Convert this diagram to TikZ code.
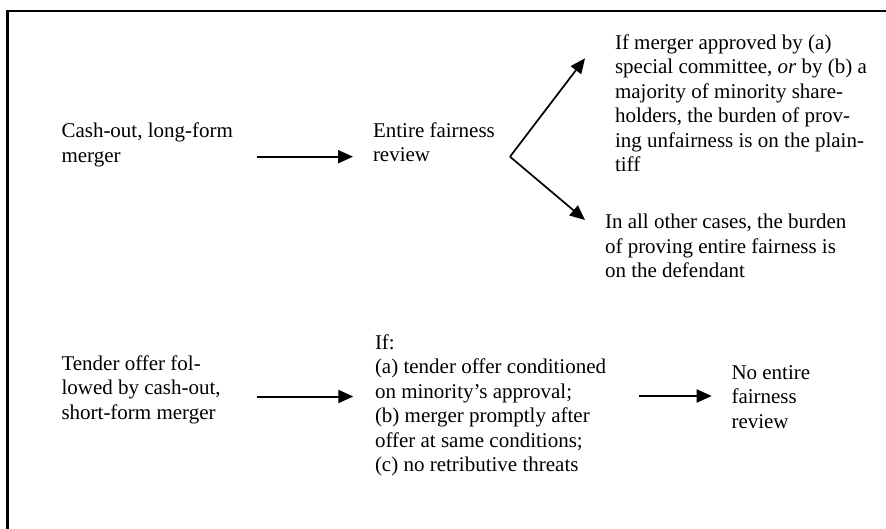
\documentclass[tikz,border=0pt]{standalone}
\usepackage{fontspec}
\setmainfont{Liberation Serif}
\usetikzlibrary{arrows.meta}
\begin{document}
\begin{tikzpicture}[x=1pt,y=-1pt,
  txt/.style={anchor=base west,inner sep=0pt,outer sep=0pt,align=left,
    font=\fontsize{21}{24.5}\selectfont},
  arr/.style={line width=2pt,-{Triangle[length=15pt,width=13pt]}},
  thin arr/.style={line width=1.7pt,-{Triangle[length=15pt,width=13pt]}},
  frame/.style={line width=2.2pt}]
\useasboundingbox (0,0) rectangle (886,529);
\clip (0,0) rectangle (886,529);
\fill[white] (0,0) rectangle (886,529);
% frame (open at right and bottom, as cropped)
\coordinate (fbl) at (7.5,540);
\coordinate (ftl) at (7.5,11.3);
\coordinate (ftr) at (900,11.3);
\draw[frame] (fbl) -- (ftl) -- (ftr);
% texts (anchored at the baseline of the last line)
\node[txt] (cash) at (61.5,162.5) {Cash-out, long-form\\merger};
\node[txt] (fair) at (373,162) {Entire fairness\\review};
\node[txt] (appr) at (615,171.7) {If merger approved by (a)\\special committee, \emph{or} by (b) a\\majority of minority share-\\holders, the burden of prov-\\ing unfairness is on the plain-\\tiff};
\node[txt] (other) at (605,278) {In all other cases, the burden\\of proving entire fairness is\\on the defendant};
\node[txt] (tender) at (61.5,419.3) {Tender offer fol-\\lowed by cash-out,\\short-form merger};
\node[txt] (cond) at (375,471.7) {If:\\(a) tender offer conditioned\\on minority’s approval;\\(b) merger promptly after\\offer at same conditions;\\(c) no retributive threats};
\node[txt] (nofair) at (731.5,428.3) {No entire\\fairness\\review};
% connector points
\coordinate (s1) at (256.7,156.7);
\coordinate (e1) at (353,156.7);
\coordinate (v) at (510,156.7);
\coordinate (up) at (585,58.3);
\coordinate (dn) at (585,220);
\coordinate (s2) at (256.7,396.5);
\coordinate (e2) at (353.3,396.5);
\coordinate (s3) at (639.3,396);
\coordinate (e3) at (711.7,396);
\draw[arr] (s1) -- (e1);
\draw[thin arr] (v) -- (up);
\draw[thin arr] (v) -- (dn);
\draw[arr] (s2) -- (e2);
\draw[arr] (s3) -- (e3);
\end{tikzpicture}
\end{document}
